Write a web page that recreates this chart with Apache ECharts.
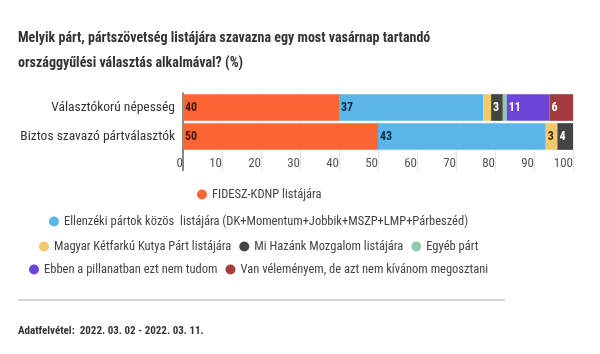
<!DOCTYPE html>
<html>
<head>
<meta charset="utf-8">
<script src="https://cdn.jsdelivr.net/npm/echarts@6/dist/echarts.min.js"></script>
<style>
  html, body { margin: 0; padding: 0; background: #fff; }
  #chart { width: 600px; height: 354px; }
</style>
</head>
<body>
<div id="chart"></div>
<script>
// csoportok (y tengely)
var categories = ['Választókorú népesség', 'Biztos szavazó pártválasztók'];
var xTicks = [0, 10, 20, 30, 40, 50, 60, 70, 80, 90, 100];

// értékek, %
var fidesz = [40, 50];
var ellenzek = [37, 43];
var mkkp = [2, 3];
var miHazank = [3, 4];
var egyeb = [1, 0];
var nemTudom = [11, 0];
var nemMondja = [6, 0];

var names = [
    'FIDESZ-KDNP listájára',
    'Ellenzéki pártok közös  listájára (DK+Momentum+Jobbik+MSZP+LMP+Párbeszéd)',
    'Magyar Kétfarkú Kutya Párt listájára',
    'Mi Hazánk Mozgalom listájára',
    'Egyéb párt',
    'Ebben a pillanatban ezt nem tudom',
    'Van véleményem, de azt nem kívánom megosztani'
];
var values = [fidesz, ellenzek, mkkp, miHazank, egyeb, nemTudom, nemMondja];
var colors = ['#fd6535', '#5bb5e6', '#f2c96c', '#444444', '#8ecaa6', '#6b46d9', '#a33d3d'];
var labelColors = ['#4a1608', '#0e2b40', '#3a2c05', '#ffffff', '#ffffff', '#ffffff', '#ffffff'];

var FONT = "'Roboto Condensed', 'Liberation Sans Narrow', Roboto, sans-serif";
var LEGEND_SIZE = 12.5;
var LEGEND_CENTER = 259;
var ICON = 10, GAP = 8;

// legend sorok középre igazítása x=259 körül
var measureCtx = document.createElement('canvas').getContext('2d');
measureCtx.font = LEGEND_SIZE + 'px ' + FONT;
function rowLeft(items) {
    var w = 0;
    items.forEach(function (t, k) {
        w += ICON + 5 + measureCtx.measureText(t).width + (k > 0 ? GAP : 0);
    });
    return Math.round(LEGEND_CENTER - w / 2);
}

var series = names.map(function (n, i) {
    return {
        name: n,
        type: 'bar',
        stack: 'total',
        barCategoryGap: '8%',
        itemStyle: { color: colors[i] },
        label: {
            show: true,
            position: 'insideLeft',
            distance: 2,
            color: labelColors[i],
            fontWeight: 'bold',
            fontSize: 12,
            fontFamily: FONT,
            formatter: function (p) { return p.value >= 3 ? p.value : ''; }
        },
        data: values[i]
    };
});

function legendRow(items, top) {
    return {
        data: items,
        top: top,
        left: rowLeft(items),
        padding: 0,
        icon: 'circle',
        itemWidth: ICON,
        itemHeight: ICON,
        itemGap: GAP,
        textStyle: { color: '#444', fontSize: LEGEND_SIZE, fontFamily: FONT }
    };
}

var option = {
    animation: false,
    title: {
        text: 'Melyik párt, pártszövetség listájára szavazna egy most vasárnap tartandó\nországgyűlési választás alkalmával? (%)',
        left: 13,
        top: 21,
        textStyle: { fontSize: 14, fontWeight: 'bold', color: '#333', fontFamily: FONT, lineHeight: 25 }
    },
    legend: [
        legendRow([names[0]], 188),
        legendRow([names[1]], 215),
        legendRow([names[2], names[3], names[4]], 240),
        legendRow([names[5], names[6]], 263)
    ],
    grid: { left: 183, right: 27, top: 93, height: 58 },
    xAxis: [
        {
            type: 'value',
            min: 0,
            max: 100,
            interval: 10,
            axisLine: { show: false },
            axisTick: { show: true, length: 20, lineStyle: { color: '#e4e4e4' } },
            splitLine: { show: true, lineStyle: { color: '#e8e8e8' } },
            axisLabel: {
                align: 'right',
                margin: 6,
                color: '#555',
                fontSize: 13,
                fontFamily: FONT,
                formatter: function (v) { return xTicks.indexOf(v) >= 0 ? v : ''; }
            }
        },
        {
            // a nulla-vonal lefelé nyúló folytatása
            type: 'value',
            position: 'bottom',
            min: 0,
            max: 100,
            axisLine: { show: false },
            axisTick: { show: true, length: 20, customValues: [0], lineStyle: { color: '#666', width: 1.5 } },
            axisLabel: { show: false },
            splitLine: { show: false }
        }
    ],
    yAxis: {
        type: 'category',
        inverse: true,
        data: categories,
        axisLine: { show: true, lineStyle: { color: '#666', width: 1.5 } },
        axisTick: { show: false },
        axisLabel: { color: '#333', fontSize: 13.5, margin: 8, fontFamily: FONT }
    },
    series: series,
    graphic: [
        {
            type: 'line',
            shape: { x1: 18, y1: 300, x2: 505, y2: 300 },
            style: { stroke: '#aaa', lineWidth: 1 }
        },
        {
            type: 'text',
            left: 18,
            top: 326,
            style: {
                text: 'Adatfelvétel:  2022. 03. 02 - 2022. 03. 11.',
                font: 'bold 11px ' + FONT,
                fill: '#333'
            }
        }
    ]
};

var myChart = echarts.init(document.getElementById('chart'));
myChart.setOption(option);
</script>
</body>
</html>
